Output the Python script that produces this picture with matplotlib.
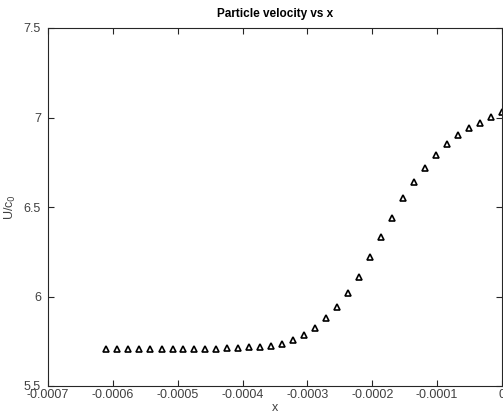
import matplotlib
matplotlib.use('Agg')
import matplotlib.pyplot as plt

#%%----------------- data

x_pos = [-0.000610, -0.000593, -0.000576, -0.000559, -0.000542, -0.000525,
         -0.000508, -0.000492, -0.000475, -0.000458, -0.000441, -0.000424,
         -0.000407, -0.000390, -0.000373, -0.000356, -0.000339, -0.000322,
         -0.000305, -0.000288, -0.000271, -0.000254, -0.000237, -0.000220,
         -0.000203, -0.000186, -0.000169, -0.000153, -0.000136, -0.000119,
         -0.000102, -0.000085, -0.000068, -0.000051, -0.000034, -0.000017,
         0.0]
u_over_c0 = [5.705, 5.705, 5.705, 5.705, 5.705, 5.705,
             5.705, 5.705, 5.706, 5.707, 5.709, 5.711,
             5.713, 5.716, 5.720, 5.726, 5.734, 5.755,
             5.785, 5.825, 5.880, 5.940, 6.020, 6.110,
             6.220, 6.330, 6.440, 6.550, 6.640, 6.720,
             6.790, 6.850, 6.900, 6.940, 6.970, 7.005,
             7.030]

xticks = [-0.0007, -0.0006, -0.0005, -0.0004, -0.0003, -0.0002, -0.0001, 0]
xtick_labels = ['-0.0007', '-0.0006', '-0.0005', '-0.0004', '-0.0003',
                '-0.0002', '-0.0001', '0']
yticks = [5.5, 6, 6.5, 7, 7.5]
ytick_labels = ['5.5', '6', '6.5', '7', '7.5']

#%%----------------- plot

plt.rcParams['font.family'] = ['Liberation Sans', 'DejaVu Sans']
axcol = '#262626'
labcol = '#404040'

fig = plt.figure(figsize=(5.03, 4.20), dpi=100)
ax = fig.add_axes([48/503, 34/420, 454/503, 358/420])

ax.plot(x_pos, u_over_c0, linestyle='none', marker='^', markersize=5,
        markerfacecolor='none', markeredgecolor='k', markeredgewidth=1.2,
        clip_on=False)

ax.set_xlim(-0.0007, 0)
ax.set_ylim(5.5, 7.5)
ax.set_xticks(xticks)
ax.set_xticklabels(xtick_labels)
ax.set_yticks(yticks)
ax.set_yticklabels(ytick_labels)

for sp in ax.spines.values():
    sp.set_color(axcol)
    sp.set_linewidth(0.8)
ax.tick_params(axis='both', direction='in', length=4, width=0.8, color=axcol,
               labelcolor=labcol, labelsize=9, top=True, right=True)
ax.tick_params(axis='x', pad=2)
ax.tick_params(axis='y', pad=5)

ax.set_xlabel('x', fontsize=9, color=labcol, labelpad=1)
ax.set_ylabel('U/c$_0$', fontsize=9, color=labcol, labelpad=4)
ax.set_title('Particle velocity vs x', fontsize=8.5, fontweight='bold',
             color='k', pad=8)

plt.savefig('out.png', dpi=100)
plt.close()
